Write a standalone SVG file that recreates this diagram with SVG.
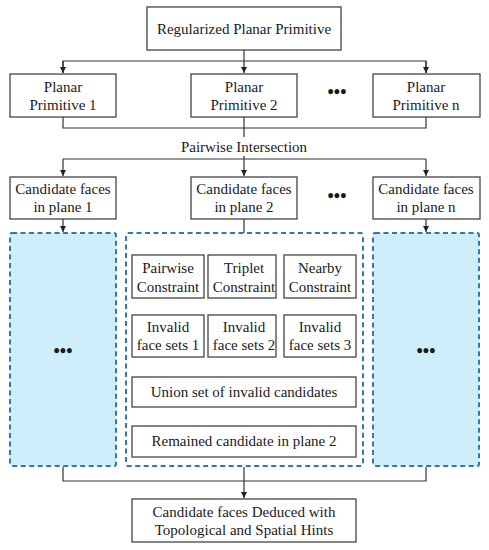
<svg xmlns="http://www.w3.org/2000/svg" width="489" height="550" viewBox="0 0 489 550">
<style>
.box{fill:#fff;stroke:#444;stroke-width:1.3}
.dash{stroke:#2b7bb0;stroke-width:2;stroke-dasharray:5 3.5}
.blue{fill:#cdeefa}
.white{fill:#fff}
.c{fill:none;stroke:#333;stroke-width:1.2}
text{font-family:"Liberation Serif","Times New Roman",serif;font-size:15px;fill:#1a1a1a;text-anchor:middle;dominant-baseline:central}
.dots{font-size:18px;font-weight:bold}
</style>
<defs>
<marker id="ah" viewBox="0 0 8 8" refX="8" refY="4" markerWidth="6" markerHeight="6" orient="auto" markerUnits="userSpaceOnUse">
<path d="M0,0 L8,4 L0,8 Z" fill="#222"/>
</marker>
</defs>
<g id="connectors">
<path class="c" d="M244,50 V73" marker-end="url(#ah)"/>
<path class="c" d="M63,73 V61 H426 V73" />
<path class="c" d="M63,61 V73" marker-end="url(#ah)"/>
<path class="c" d="M426,61 V73" marker-end="url(#ah)"/>
<path class="c" d="M63,117 V128 H426 V117 M244,117 V137"/>
<path class="c" d="M244,156 V176" marker-end="url(#ah)"/>
<path class="c" d="M63,159 H426"/>
<path class="c" d="M63,159 V176" marker-end="url(#ah)"/>
<path class="c" d="M426,159 V176" marker-end="url(#ah)"/>
<path class="c" d="M63,219 V232" marker-end="url(#ah)"/>
<path class="c" d="M426,219 V232" marker-end="url(#ah)"/>
<path class="c" d="M244,219 V254" marker-end="url(#ah)"/>
<path class="c" d="M168,239 H321"/>
<path class="c" d="M168,239 V254" marker-end="url(#ah)"/>
<path class="c" d="M321,239 V254" marker-end="url(#ah)"/>
<path class="c" d="M168,298 V314" marker-end="url(#ah)"/>
<path class="c" d="M244,298 V314" marker-end="url(#ah)"/>
<path class="c" d="M321,298 V314" marker-end="url(#ah)"/>
<path class="c" d="M168,357 V367 H321 V357 M244,357 V367"/>
<path class="c" d="M244,367 V376" marker-end="url(#ah)"/>
<path class="c" d="M244,407 V425" marker-end="url(#ah)"/>
<path class="c" d="M63,467 V481 H426 V467"/>
<path class="c" d="M244,467 V498" marker-end="url(#ah)"/>
</g>
<g id="n-top"><rect class="box" x="147" y="7" width="194" height="43"/><text x="244" y="29">Regularized Planar Primitive</text></g>
<g id="n-pp1"><rect class="box" x="10" y="74" width="106" height="43"/><text x="63" y="87">Planar</text><text x="63" y="105">Primitive 1</text></g>
<g id="n-pp2"><rect class="box" x="191" y="74" width="106" height="43"/><text x="244" y="87">Planar</text><text x="244" y="105">Primitive 2</text></g>
<g id="n-ppdots"><text class="dots" x="337" y="92">•••</text></g>
<g id="n-ppn"><rect class="box" x="373" y="74" width="107" height="43"/><text x="426" y="87">Planar</text><text x="426" y="105">Primitive n</text></g>
<g id="n-pi"><text x="244" y="147">Pairwise Intersection</text></g>
<g id="n-cf1"><rect class="box" x="10" y="177" width="106" height="42"/><text x="63" y="189">Candidate faces</text><text x="63" y="207">in plane 1</text></g>
<g id="n-cf2"><rect class="box" x="191" y="177" width="106" height="42"/><text x="244" y="189">Candidate faces</text><text x="244" y="207">in plane 2</text></g>
<g id="n-cfdots"><text class="dots" x="337" y="196">•••</text></g>
<g id="n-cfn"><rect class="box" x="373" y="177" width="107" height="42"/><text x="426" y="189">Candidate faces</text><text x="426" y="207">in plane n</text></g>
<g id="n-g1"><rect class="dash blue" x="10" y="233" width="106" height="233" rx="2"/><text class="dots" x="63" y="351">•••</text></g>
<g id="n-g2"><rect class="dash white" x="126" y="233" width="237" height="233" rx="2"/></g>
<g id="n-gn"><rect class="dash blue" x="373" y="233" width="106" height="233" rx="2"/><text class="dots" x="426" y="351">•••</text></g>
<g id="n-pc"><rect class="box" x="132" y="255" width="72" height="43"/><text x="168" y="268">Pairwise</text><text x="168" y="287">Constraint</text></g>
<g id="n-tc"><rect class="box" x="208" y="255" width="68" height="43"/><text x="244" y="268">Triplet</text><text x="244" y="287">Constraint</text></g>
<g id="n-nc"><rect class="box" x="284" y="255" width="72" height="43"/><text x="320" y="268">Nearby</text><text x="320" y="287">Constraint</text></g>
<g id="n-i1"><rect class="box" x="132" y="315" width="72" height="42"/><text x="168" y="327">Invalid</text><text x="168" y="345">face sets 1</text></g>
<g id="n-i2"><rect class="box" x="208" y="315" width="68" height="42"/><text x="244" y="327">Invalid</text><text x="244" y="345">face sets 2</text></g>
<g id="n-i3"><rect class="box" x="284" y="315" width="72" height="42"/><text x="320" y="327">Invalid</text><text x="320" y="345">face sets 3</text></g>
<g id="n-union"><rect class="box" x="132" y="377" width="224" height="30"/><text x="244" y="392">Union set of invalid candidates</text></g>
<g id="n-rem"><rect class="box" x="132" y="426" width="224" height="31"/><text x="244" y="441">Remained candidate in plane 2</text></g>
<g id="n-final"><rect class="box" x="132" y="499" width="224" height="43"/><text x="244" y="512">Candidate faces Deduced with</text><text x="244" y="530">Topological and Spatial Hints</text></g>
</svg>
